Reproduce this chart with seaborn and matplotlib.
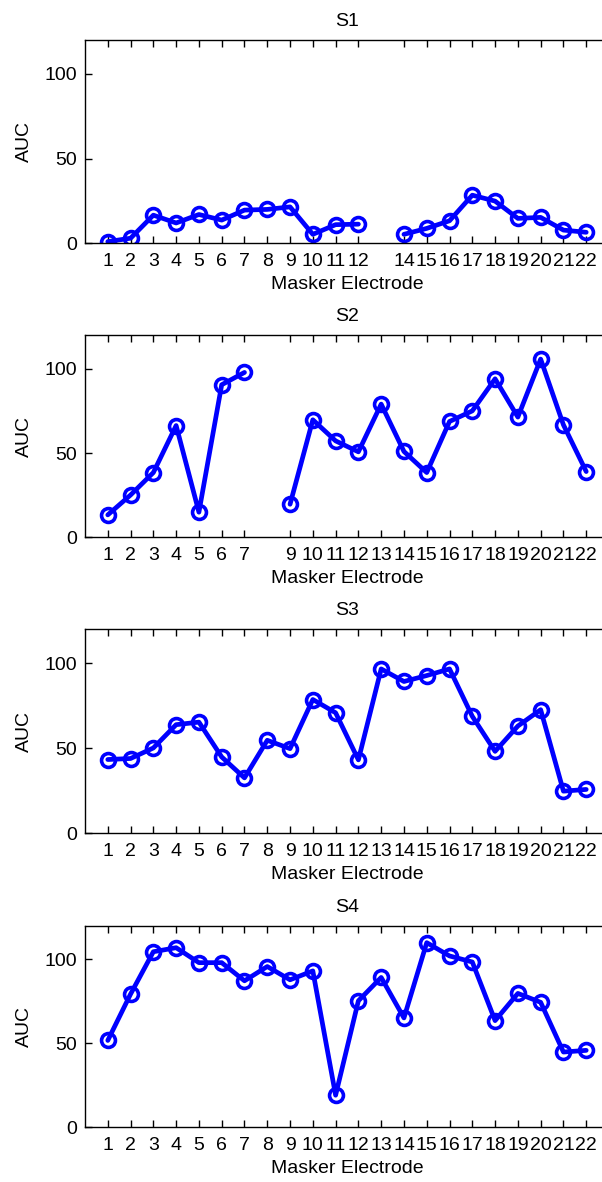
import numpy as np
import pandas as pd
import matplotlib
matplotlib.use("Agg")
import matplotlib.pyplot as plt
import seaborn as sns

# Masker electrodes 1..22 and AUC per subject (NaN = electrode not tested)
electrodes = list(range(1, 23))
nan = np.nan
auc_s1 = [1, 3, 16.6, 12, 17, 13.7, 19.6, 20, 21.5, 5.3, 11, 11.3,
          nan, 5.3, 8.8, 13.3, 28.4, 24.9, 14.7, 15.3, 7.8, 6.5]
auc_s2 = [13.3, 25.1, 38.4, 66.3, 14.9, 90.5, 97.8, nan, 19.6, 69.7, 57.2,
          50.7, 79, 50.9, 38.4, 68.7, 75, 94, 71.3, 105.7, 66.7, 39]
auc_s3 = [43.4, 44, 50.2, 63.9, 65.4, 44.9, 32.6, 54.7, 49.8, 78.7, 70.9,
          43.2, 96.7, 89.3, 92.8, 96.7, 68.8, 48.2, 63.1, 72.7, 24.8, 25.8]
auc_s4 = [51.7, 79.3, 104.5, 106.9, 98, 98, 87.2, 95.7, 87.8, 93.1, 19.1,
          75.3, 89.2, 65.1, 109.9, 102, 98.4, 63.5, 79.7, 74.4, 44.8, 45.8]
subjects = ["S1", "S2", "S3", "S4"]
y_ticks = [0, 50, 100]

sns.set_style("ticks")
plt.rcParams["font.family"] = ["Liberation Sans", "DejaVu Sans"]
plt.rcParams["xtick.direction"] = "in"
plt.rcParams["ytick.direction"] = "in"
for key in ["text.color", "axes.labelcolor", "xtick.color", "ytick.color",
            "xtick.labelcolor", "ytick.labelcolor"]:
    plt.rcParams[key] = "black"

W, H = 602, 1182
fig = plt.figure(figsize=(W / 100, H / 100), dpi=100)

# axes boxes in pixels: (top, bottom); the right edge runs past the canvas
left_px, right_px = 85, 609
boxes = [(40, 243.3), (335, 537.3), (629.3, 833.3), (925.7, 1127.3)]

for name, values, (top, bot) in zip(subjects, [auc_s1, auc_s2, auc_s3, auc_s4], boxes):
    ax = fig.add_axes([left_px / W, 1 - bot / H, (right_px - left_px) / W, (bot - top) / H])
    df = pd.DataFrame({"electrode": electrodes, "auc": values})
    # split into contiguous runs so missing electrodes leave a gap
    df["segment"] = df["auc"].isna().cumsum()
    df = df.dropna()
    sns.lineplot(data=df, x="electrode", y="auc", units="segment", estimator=None,
                 color="#0000ff", linewidth=3.4, marker="o", markersize=10,
                 markerfacecolor="none", markeredgecolor="#0000ff",
                 markeredgewidth=2.6, ax=ax, legend=False)
    # only tested electrodes get a tick
    tested = df["electrode"].tolist()
    ax.set_xlim(0, 23)
    ax.set_ylim(0, 120)
    ax.set_xticks(tested)
    ax.set_xticklabels([str(e) for e in tested])
    ax.set_yticks(y_ticks)
    ax.tick_params(axis="both", labelsize=14, length=5, width=1, color="black",
                   labelcolor="black", top=True, right=True, pad=6)
    ax.tick_params(axis="x", pad=7)
    for s in ax.spines.values():
        s.set_linewidth(1)
        s.set_color("black")
    ax.set_title(name, fontsize=14, pad=10, color="black")
    ax.set_xlabel("Masker Electrode", fontsize=14, labelpad=4, color="black")
    ax.set_ylabel("AUC", fontsize=14, labelpad=8, color="black")

fig.savefig("out.png", dpi=100)
